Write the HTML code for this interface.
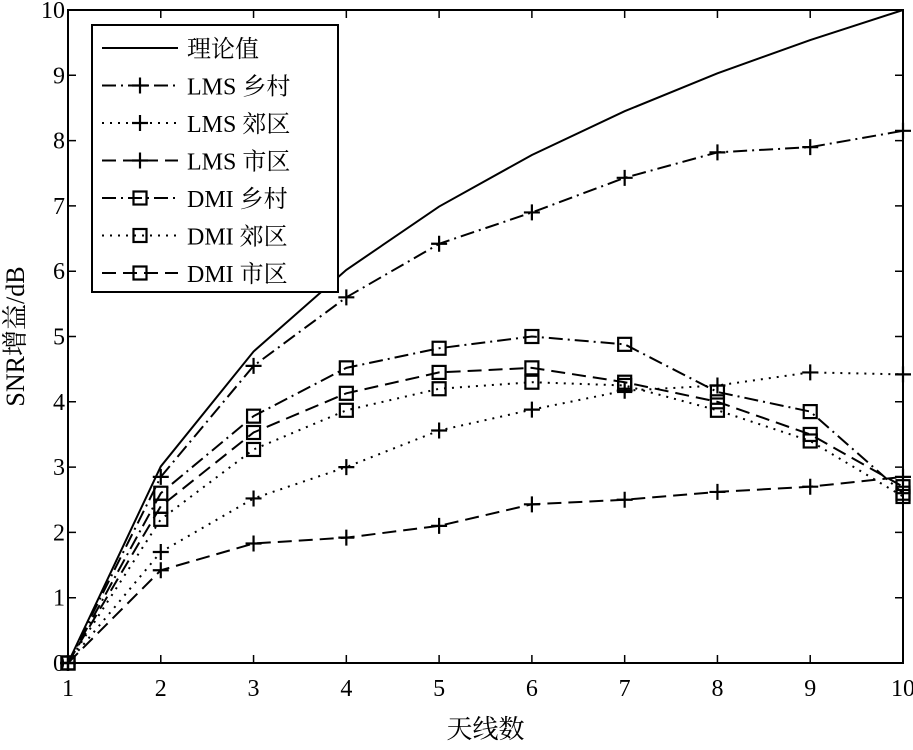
<!DOCTYPE html>
<html><head><meta charset="utf-8"><style>
body{margin:0;background:#fff}
svg text{font-family:"Liberation Serif","Noto Serif CJK SC","Noto Sans CJK SC",serif;fill:#000}
</style></head><body>
<svg id="chart" width="913" height="745" xmlns="http://www.w3.org/2000/svg"></svg>
<script>
const xCats=[1,2,3,4,5,6,7,8,9,10];
const yTicks=[0,1,2,3,4,5,6,7,8,9,10];
const theory=[0,3.01,4.77,6.02,6.99,7.78,8.45,9.03,9.54,10];
const lmsRural=[0,2.85,4.55,5.6,6.42,6.9,7.43,7.82,7.9,8.15];
const lmsSuburb=[0,1.7,2.52,3.0,3.56,3.88,4.17,4.25,4.45,4.42];
const lmsUrban=[0,1.42,1.83,1.92,2.1,2.43,2.5,2.62,2.7,2.85];
const dmiRural=[0,2.6,3.78,4.52,4.82,5.0,4.88,4.15,3.85,2.6];
const dmiSuburb=[0,2.2,3.27,3.87,4.2,4.3,4.25,3.87,3.4,2.55];
const dmiUrban=[0,2.4,3.53,4.13,4.45,4.52,4.3,4.0,3.5,2.7];
const seriesNames=["理论值","LMS 乡村","LMS 郊区","LMS 市区","DMI 乡村","DMI 郊区","DMI 市区"];

const L=68,R=903,T=10,B=663;
const xs=v=>L+(v-1)/9*(R-L);
const ys=v=>B-v/10*(B-T);
const svg=document.getElementById('chart');
const NS="http://www.w3.org/2000/svg";
function mk(tag,attrs,parent){const e=document.createElementNS(NS,tag);for(const k in attrs)e.setAttribute(k,attrs[k]);(parent||svg).appendChild(e);return e;}

const DASH={solid:"",dashdot:"14,5,2,5",dot:"2,6",dash:"14,7"};
const series=[
 {d:theory,dash:DASH.solid,m:null,name:"theory-line"},
 {d:lmsRural,dash:DASH.dashdot,m:"plus",name:"lms-rural-line"},
 {d:lmsSuburb,dash:DASH.dot,m:"plus",name:"lms-suburb-line"},
 {d:lmsUrban,dash:DASH.dash,m:"plus",name:"lms-urban-line"},
 {d:dmiRural,dash:DASH.dashdot,m:"sq",name:"dmi-rural-line"},
 {d:dmiSuburb,dash:DASH.dot,m:"sq",name:"dmi-suburb-line"},
 {d:dmiUrban,dash:DASH.dash,m:"sq",name:"dmi-urban-line"}];

function marker(type,x,y,g){
 if(type==="plus"){mk('path',{d:`M${x-8},${y}H${x+8}M${x},${y-8}V${y+8}`,stroke:"#000","stroke-width":2.2,fill:"none"},g);}
 else if(type==="sq"){mk('rect',{x:x-6.5,y:y-6.5,width:13,height:13,stroke:"#000","stroke-width":2.2,fill:"none"},g);}
}

const box=mk('rect',{x:L,y:T,width:R-L,height:B-T,fill:"none",stroke:"#000","stroke-width":2});



xCats.forEach(v=>{
 const x=xs(v);
 const t=mk('path',{d:`M${x},${B}V${B-8}M${x},${T}V${T+8}`,stroke:"#000","stroke-width":1.5});
 
 
 const lb=mk('text',{x:x,y:B+33,"text-anchor":"middle","font-size":24});
 lb.textContent=v;
 
 
});
yTicks.forEach(v=>{
 const y=ys(v);
 const t=mk('path',{d:`M${L},${y}H${L+8}M${R},${y}H${R-8}`,stroke:"#000","stroke-width":1.5});
 
 
 const lb=mk('text',{x:L-3,y:y+8,"text-anchor":"end","font-size":24});
 lb.textContent=v;
 
 
});

const xt=mk('text',{x:(L+R)/2,y:738,"text-anchor":"middle","font-size":26});
xt.textContent="天线数";


const yt=mk('text',{x:0,y:0,"text-anchor":"middle","font-size":26,transform:`translate(24,${(T+B)/2}) rotate(-90)`});
yt.textContent="SNR增益/dB";



series.forEach(s=>{
 const g=mk('g',{});
 
 
 const pts=s.d.map((v,i)=>xs(xCats[i])+","+ys(v)).join(" ");
 const a={points:pts,fill:"none",stroke:"#000","stroke-width":2};
 if(s.dash)a["stroke-dasharray"]=s.dash;
 mk('polyline',a,g);
 if(s.m)s.d.forEach((v,i)=>marker(s.m,xs(xCats[i]),ys(v),g));
});

const lg=mk('g',{});


mk('rect',{x:92,y:25,width:246,height:267,fill:"#fff",stroke:"#000","stroke-width":2},lg);
series.forEach((s,i)=>{
 const y=48+i*37.5;
 const e=mk('g',{},lg);
 
 
 const a={d:`M102,${y}H178`,stroke:"#000","stroke-width":2,fill:"none"};
 if(s.dash)a["stroke-dasharray"]=s.dash;
 mk('path',a,e);
 if(s.m)marker(s.m,140,y,e);
 const t=mk('text',{x:187,y:y+9,"font-size":24},e);
 t.textContent=seriesNames[i];
});
</script>
</body></html>
